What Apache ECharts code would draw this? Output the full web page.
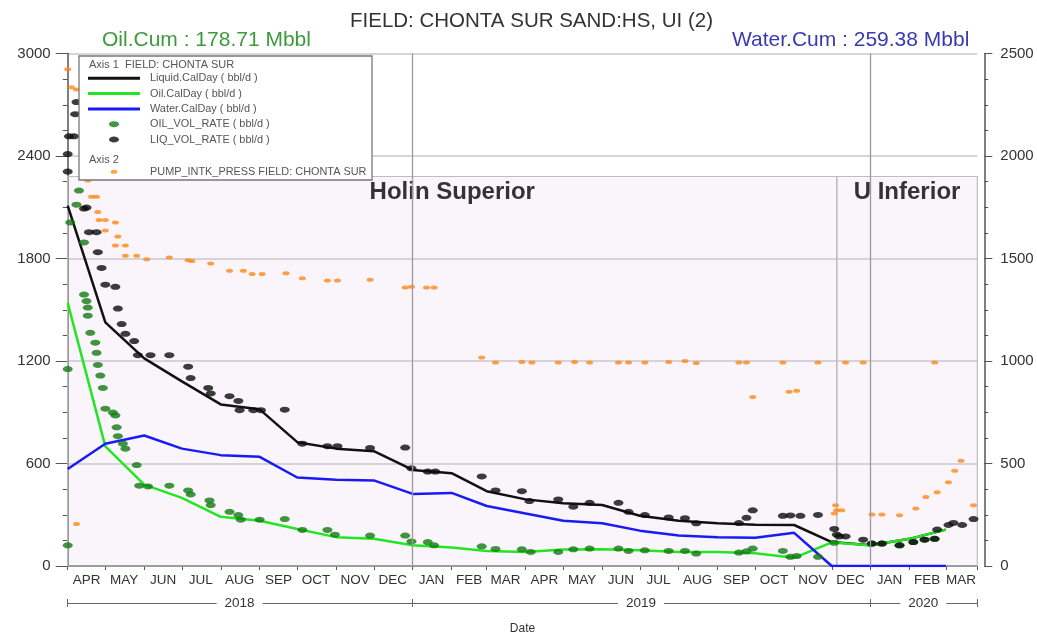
<!DOCTYPE html>
<html><head><meta charset="utf-8">
<script src="https://cdn.jsdelivr.net/npm/echarts@6/dist/echarts.min.js"></script>
<style>html,body{margin:0;padding:0;background:#fff}#c{width:1037px;height:640px}</style>
</head><body><div id="c"></div>
<script>
// ---------- DATA ----------
const lineDates = ['2018-04-01','2018-05-01','2018-06-01','2018-07-01','2018-08-01','2018-09-01','2018-10-01','2018-11-01','2018-12-01','2019-01-01','2019-02-01','2019-03-01','2019-04-01','2019-05-01','2019-06-01','2019-07-01','2019-08-01','2019-09-01','2019-10-01','2019-11-01','2019-12-01','2020-01-01','2020-02-01','2020-03-01'];
const liquidCalDay = [2110,1426,1215,1081,946,917,725,687,672,562,543,438,390,367,357,294,265,250,242,240,140,121,159,213];
const oilCalDay    = [1540,700,476,399,288,265,217,169,159,121,108,88,82,96,98,92,82,82,75,48,138,121,159,213];
const waterCalDay  = [568,716,764,687,649,639,518,505,501,422,428,351,307,265,250,207,178,169,165,194,0,0,0,0];

const liqVolRate = [
 ['2018-04-01',2411],['2018-04-01',2309],['2018-04-02',2515],['2018-04-06',2515],['2018-04-07',2645],['2018-04-08',2716],
 ['2018-04-14',2092],['2018-04-16',2098],['2018-04-18',1954],['2018-04-24',1954],['2018-04-25',1837],['2018-04-28',1745],
 ['2018-05-01',1647],['2018-05-09',1634],['2018-05-11',1507],['2018-05-14',1416],['2018-05-17',1359],['2018-05-24',1317],
 ['2018-05-27',1234],['2018-06-06',1234],['2018-06-21',1234],['2018-07-06',1167],['2018-07-08',1100],['2018-07-22',1042],
 ['2018-07-24',1010],['2018-08-08',994],['2018-08-15',966],['2018-08-16',912],['2018-08-27',912],['2018-09-02',912],
 ['2018-09-21',915],['2018-10-05',716],['2018-10-25',701],['2018-11-02',701],['2018-11-28',691],['2018-12-26',693],
 ['2018-12-31',572],['2019-01-13',553],['2019-01-19',553],['2019-02-25',524],['2019-03-08',442],['2019-03-29',438],
 ['2019-04-04',380],['2019-04-27',390],['2019-05-09',347],['2019-05-22',370],['2019-06-14',370],['2019-06-22',317],
 ['2019-07-05',298],['2019-07-24',284],['2019-08-06',280],['2019-08-15',250],['2019-09-18',251],['2019-09-24',282],
 ['2019-09-29',326],['2019-10-23',294],['2019-10-29',296],['2019-11-06',294],['2019-11-20',299],['2019-12-03',217],
 ['2019-12-05',184],['2019-12-07',173],['2019-12-12',173],['2019-12-26',154],['2020-01-02',131],['2020-01-10',131],
 ['2020-01-24',121],['2020-02-04',140],['2020-02-13',154],['2020-02-21',159],['2020-02-23',213],['2020-03-03',240],
 ['2020-03-07',252],['2020-03-14',240],['2020-03-23',275]
];
const oilVolRate = [
 ['2018-04-01',1153],['2018-04-01',121],['2018-04-03',2011],['2018-04-08',2115],['2018-04-10',2198],['2018-04-14',1894],
 ['2018-04-14',1589],['2018-04-16',1551],['2018-04-17',1513],['2018-04-17',1465],['2018-04-19',1365],['2018-04-23',1307],
 ['2018-04-24',1248],['2018-04-25',1177],['2018-04-27',1115],['2018-04-29',1042],['2018-05-01',921],['2018-05-07',898],
 ['2018-05-09',881],['2018-05-10',812],['2018-05-11',760],['2018-05-15',716],['2018-05-17',687],['2018-05-26',591],
 ['2018-05-28',470],['2018-06-04',466],['2018-06-21',470],['2018-07-06',442],['2018-07-08',419],['2018-07-23',384],
 ['2018-07-24',357],['2018-08-08',317],['2018-08-15',298],['2018-08-17',271],['2018-09-01',271],['2018-09-21',275],
 ['2018-10-05',211],['2018-10-25',211],['2018-10-31',183],['2018-11-28',178],['2018-12-26',178],['2018-12-31',144],
 ['2019-01-13',140],['2019-01-18',121],['2019-02-25',115],['2019-03-08',100],['2019-03-29',98],['2019-04-05',82],
 ['2019-04-27',82],['2019-05-09',98],['2019-05-22',102],['2019-06-14',102],['2019-06-22',88],['2019-07-05',92],
 ['2019-07-24',88],['2019-08-06',88],['2019-08-15',73],['2019-09-18',79],['2019-09-24',86],['2019-09-29',102],
 ['2019-10-23',88],['2019-10-29',54],['2019-11-03',58],['2019-11-20',54],['2019-12-03',136],
 ['2020-01-02',131],['2020-01-10',131],['2020-01-24',121],['2020-02-04',140],['2020-02-13',154],['2020-02-21',159]
];
const pumpIntkPress = [
 ['2018-04-01',2423],['2018-04-04',2335],['2018-04-08',2324],['2018-04-08',205],['2018-04-17',1881],['2018-04-20',1801],
 ['2018-04-24',1801],['2018-04-25',1727],['2018-04-26',1688],['2018-05-01',1688],['2018-05-01',1636],['2018-05-09',1676],
 ['2018-05-11',1607],['2018-05-09',1564],['2018-05-17',1564],['2018-05-17',1513],['2018-05-26',1513],['2018-06-03',1496],
 ['2018-06-21',1505],['2018-07-06',1492],['2018-07-09',1488],['2018-07-24',1476],['2018-08-08',1440],['2018-08-19',1440],
 ['2018-08-26',1425],['2018-09-03',1425],['2018-09-22',1428],['2018-10-05',1404],['2018-10-25',1393],['2018-11-02',1393],
 ['2018-11-28',1396],['2018-12-26',1359],['2018-12-31',1362],['2019-01-12',1359],['2019-01-18',1359],['2019-02-25',1017],
 ['2019-03-08',993],['2019-03-29',995],['2019-04-06',993],['2019-04-27',993],['2019-05-10',995],['2019-05-22',993],
 ['2019-06-14',993],['2019-06-22',993],['2019-07-05',993],['2019-07-24',995],['2019-08-06',1000],['2019-08-15',990],
 ['2019-09-18',993],['2019-09-24',993],['2019-09-29',825],['2019-10-23',993],['2019-10-28',850],['2019-11-03',855],
 ['2019-11-20',993],['2019-12-03',256],['2019-12-04',296],['2019-12-05',272],['2019-12-09',272],['2019-12-12',993],
 ['2019-12-26',993],['2020-01-02',251],['2020-01-10',251],['2020-01-24',248],['2020-02-06',280],['2020-02-14',337],
 ['2020-02-21',993],['2020-02-23',360],['2020-03-03',409],['2020-03-08',465],['2020-03-13',513],['2020-03-23',296]
];

const xStart = '2018-04-01';
const xEnd = '2020-03-26';
const monthNames = ['JAN','FEB','MAR','APR','MAY','JUN','JUL','AUG','SEP','OCT','NOV','DEC'];
const monthTicks = ['2018-04-01','2018-05-01','2018-06-01','2018-07-01','2018-08-01','2018-09-01','2018-10-01','2018-11-01','2018-12-01','2019-01-01','2019-02-01','2019-03-01','2019-04-01','2019-05-01','2019-06-01','2019-07-01','2019-08-01','2019-09-01','2019-10-01','2019-11-01','2019-12-01','2020-01-01','2020-02-01','2020-03-01','2020-03-26'];
const monthLabelAt = ['2018-04-16','2018-05-16','2018-06-16','2018-07-16','2018-08-16','2018-09-16','2018-10-16','2018-11-16','2018-12-16','2019-01-16','2019-02-15','2019-03-16','2019-04-16','2019-05-16','2019-06-16','2019-07-16','2019-08-16','2019-09-16','2019-10-16','2019-11-16','2019-12-16','2020-01-16','2020-02-15','2020-03-13'];
const yearTicks = ['2018-04-01','2019-01-01','2020-01-01','2020-03-26'];
const yearLabelAt = ['2018-08-16','2019-07-02','2020-02-12'];
const yearGridLines = ['2019-01-01','2020-01-01'];
const zoneNames = ['Holin Superior','U Inferior'];
const zoneBounds = ['2018-04-01','2019-12-05','2020-03-26'];
const zoneTop = 2280;
const leftTicks = {min:0, max:3000, interval:600};
const rightTicks = {min:0, max:2500, interval:500};

// ---------- CHART ----------
const FONT = "'Liberation Sans', Arial, sans-serif";
const t = s => new Date(s + 'T00:00:00').getTime();
const pairs = (dates, vals) => dates.map((d,i)=>[t(d), vals[i]]);
const pts = arr => arr.map(p => [t(p[0]), p[1]]);
const ELL = 'path://M0,3A5,3 0 1,0 10,3A5,3 0 1,0 0,3Z';
const BAR = 'path://M0,0H52V3H0Z';

const chart = echarts.init(document.getElementById('c'), null, {renderer:'canvas'});
const xBase = {type:'value', min:t(xStart), max:t(xEnd), gridIndex:0, scale:true};
const legendText = {fontSize:10.9, color:'#555', lineHeight:12, fontFamily:FONT, padding:[0,0,0,5]};

chart.setOption({
  animation:false,
  backgroundColor:'#ffffff',
  textStyle:{fontFamily:FONT},
  title:[
    {text:'FIELD: CHONTA SUR SAND:HS, UI (2)', left:345, top:6, textStyle:{fontSize:20.5, fontWeight:'normal', color:'#333', fontFamily:FONT}},
    {text:'Oil.Cum : 178.71 Mbbl', left:97, top:25, textStyle:{fontSize:21, fontWeight:'normal', color:'#3d9b3d', fontFamily:FONT}},
    {text:'Water.Cum : 259.38 Mbbl', left:727, top:25, textStyle:{fontSize:21, fontWeight:'normal', color:'#3a3ab0', fontFamily:FONT}}
  ],
  grid:{left:67.7, right:59.7, top:53.5, bottom:63.5, containLabel:false},
  legend:[
    {data:[{name:'Liquid.CalDay ( bbl/d )', icon:BAR},{name:'Oil.CalDay ( bbl/d )', icon:BAR},{name:'Water.CalDay ( bbl/d )', icon:BAR},
           'OIL_VOL_RATE ( bbl/d )','LIQ_VOL_RATE ( bbl/d )'],
     orient:'vertical', left:88, top:72.3, itemWidth:52, itemHeight:6, itemGap:3.3, padding:0, z:200,
     selectedMode:false, textStyle:legendText},
    {data:['PUMP_INTK_PRESS FIELD: CHONTA SUR'],
     orient:'vertical', left:110.7, top:165.7, itemWidth:52, itemHeight:4, padding:0, z:200, selectedMode:false,
     textStyle:legendText}
  ],
  graphic:[
    {type:'rect', z:100, shape:{x:79, y:56, width:293, height:124}, style:{fill:'#fff', stroke:'#777', lineWidth:1.3}},
    {type:'text', z:201, x:89, y:64.5, style:{text:'Axis 1  FIELD: CHONTA SUR', fill:'#555', font:'11px ' + FONT, verticalAlign:'middle'}},
    {type:'text', z:201, x:89, y:159.5, style:{text:'Axis 2', fill:'#555', font:'11px ' + FONT, verticalAlign:'middle'}}
  ],
  xAxis:[
    Object.assign({}, xBase, {
      position:'bottom',
      axisLine:{onZero:false, lineStyle:{color:'#555', width:1.5}},
      axisTick:{customValues:monthTicks.map(t), length:4, lineStyle:{color:'#555'}},
      axisLabel:{customValues:monthLabelAt.map(t), formatter:v=>monthNames[new Date(v).getMonth()],
                 color:'#333', fontSize:13.5, margin:7, fontFamily:FONT},
      splitLine:{show:false}
    }),
    Object.assign({}, xBase, {
      position:'bottom', offset:37,
      axisLine:{onZero:false, lineStyle:{color:'#666', width:1}},
      axisTick:{customValues:yearTicks.map(t), length:4, lineStyle:{color:'#666'}},
      axisLabel:{customValues:yearLabelAt.map(t), formatter:v=>String(new Date(v).getFullYear()),
                 color:'#333', fontSize:13.5, margin:-8, lineHeight:16, backgroundColor:'#fff', padding:[0,8], fontFamily:FONT},
      splitLine:{show:false},
      name:'Date', nameLocation:'middle', nameGap:20, nameTextStyle:{fontSize:12, color:'#333', fontFamily:FONT}
    }),
    Object.assign({}, xBase, {
      position:'bottom', offset:37,
      axisLine:{show:false, onZero:false},
      axisTick:{customValues:yearTicks.map(t), length:4, inside:true, lineStyle:{color:'#666'}},
      axisLabel:{show:false}, splitLine:{show:false}
    })
  ],
  yAxis:[
    {type:'value', position:'left', min:leftTicks.min, max:leftTicks.max, interval:leftTicks.interval,
     axisLine:{show:true, onZero:false, lineStyle:{color:'#555', width:1.5}},
     axisTick:{show:true, length:12, lineStyle:{color:'#555'}},
     minorTick:{show:true, splitNumber:4, length:5, lineStyle:{color:'#555'}},
     axisLabel:{color:'#333', fontSize:15, margin:17, fontFamily:FONT, formatter:v=>String(v)},
     splitLine:{show:true, lineStyle:{color:'#c8c8c8', width:1.5}}},
    {type:'value', position:'right', offset:7, min:rightTicks.min, max:rightTicks.max, interval:rightTicks.interval,
     axisLine:{show:true, onZero:false, lineStyle:{color:'#555', width:1.5}},
     axisTick:{show:true, length:8, lineStyle:{color:'#555'}},
     minorTick:{show:true, splitNumber:4, length:4, lineStyle:{color:'#555'}},
     axisLabel:{color:'#333', fontSize:15, margin:16, fontFamily:FONT, formatter:v=>String(v)},
     splitLine:{show:false}}
  ],
  series:[
    {name:'Liquid.CalDay ( bbl/d )', type:'line', data:pairs(lineDates, liquidCalDay), symbol:'none', z:2,
     lineStyle:{color:'#111', width:2.5}, itemStyle:{color:'#111'},
     markLine:{silent:true, symbol:'none', label:{show:false}, lineStyle:{color:'#9a9a9a', width:1.3, type:'solid'},
               data:yearGridLines.map(d=>({xAxis:t(d)}))}},
    {name:'Oil.CalDay ( bbl/d )', type:'line', data:pairs(lineDates, oilCalDay), symbol:'none', z:2,
     lineStyle:{color:'#22e622', width:2.5}, itemStyle:{color:'#22e622'}},
    {name:'Water.CalDay ( bbl/d )', type:'line', data:pairs(lineDates, waterCalDay), symbol:'none', z:2,
     lineStyle:{color:'#1a1af5', width:2.5}, itemStyle:{color:'#1a1af5'},
     markArea:{silent:true,
       itemStyle:{color:'rgba(225,190,225,0.16)', borderColor:'#bdbdbd', borderWidth:1.2},
       label:{show:true, position:'insideTop', distance:4, fontSize:24, fontWeight:'bold', color:'#333', fontFamily:FONT},
       data:zoneNames.map((n,i)=>[{name:n, xAxis:t(zoneBounds[i]), yAxis:0},{xAxis:t(zoneBounds[i+1]), yAxis:zoneTop}])}},
    {name:'OIL_VOL_RATE ( bbl/d )', type:'scatter', data:pts(oilVolRate), symbol:ELL, symbolSize:[10,6], z:3,
     itemStyle:{color:'#137a13'}},
    {name:'LIQ_VOL_RATE ( bbl/d )', type:'scatter', data:pts(liqVolRate), symbol:ELL, symbolSize:[10,6], z:3,
     itemStyle:{color:'#0d0d0d'}},
    {name:'PUMP_INTK_PRESS FIELD: CHONTA SUR', type:'scatter', yAxisIndex:1, data:pts(pumpIntkPress), symbol:ELL, symbolSize:[7,4], z:3,
     itemStyle:{color:'#ff8a1c'}}
  ]
});
</script></body></html>
